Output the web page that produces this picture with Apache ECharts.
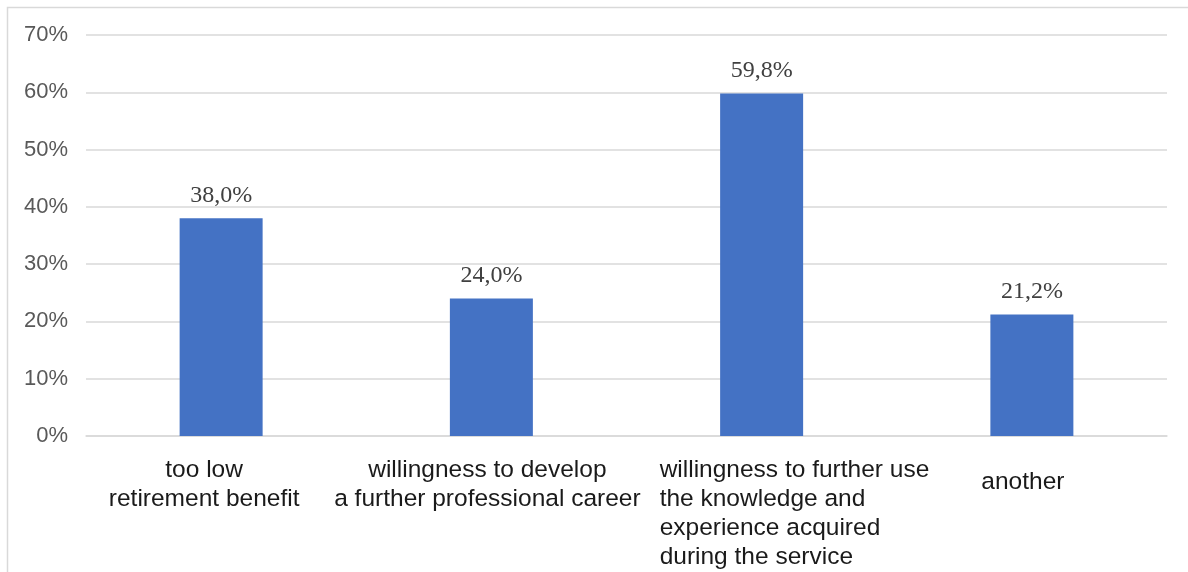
<!DOCTYPE html>
<html>
<head>
<meta charset="utf-8">
<script src="https://cdn.jsdelivr.net/npm/echarts@6/dist/echarts.min.js"></script>
<style>
  html, body { margin: 0; padding: 0; background: #ffffff; }
  #chart { width: 1188px; height: 572px; }
</style>
</head>
<body>
<div id="chart"></div>
<script>
// Reasons for taking up work after leaving the service (share of respondents, %)
const categories = [
  'too low\nretirement benefit',
  'willingness to develop\na further professional career',
  'willingness to further use\nthe knowledge and\nexperience acquired\nduring the service',
  'another'
];
const shares = [38.0, 24.0, 59.8, 21.2];
const yTicks = { min: 0, max: 70, step: 10 };

// per-category label placement (alignment / offsets of the multi-line texts)
const labelStyles = [
  { align: 'center', padding: [0, 34, 0, 0] },
  { align: 'center', padding: [0, 8, 0, 0] },
  { align: 'left', padding: [0, 0, 0, -102] },
  { align: 'center', padding: [12, 18, 0, 0] }
];

const chart = echarts.init(document.getElementById('chart'), null, { renderer: 'canvas' });

chart.setOption({
  backgroundColor: '#ffffff',
  animation: false,
  graphic: [{
    type: 'rect',
    silent: true,
    shape: { x: 7.5, y: 7.5, width: 1300, height: 700 },
    style: { fill: 'none', stroke: '#d9d9d9', lineWidth: 1.5 }
  }],
  grid: { left: 86, right: 21, top: 35, bottom: 135, containLabel: false },
  xAxis: {
    type: 'category',
    data: categories.map((c, i) => ({ value: c, textStyle: labelStyles[i] })),
    axisTick: { show: false },
    axisLine: { lineStyle: { color: '#d9d9d9', width: 1.5 } },
    axisLabel: {
      interval: 0,
      margin: 20,
      fontFamily: 'Liberation Sans, Arial, sans-serif',
      fontSize: 24.5,
      lineHeight: 29,
      color: '#1a1a1a'
    }
  },
  yAxis: {
    type: 'value',
    min: yTicks.min,
    max: yTicks.max,
    interval: yTicks.step,
    axisLine: { show: false },
    axisTick: { show: false },
    splitLine: { lineStyle: { color: '#d9d9d9', width: 1.5 } },
    axisLabel: {
      margin: 18,
      padding: [4, 0, 0, 0],
      formatter: '{value}%',
      fontFamily: 'Liberation Sans, Arial, sans-serif',
      fontSize: 22,
      color: '#595959'
    }
  },
  series: [{
    type: 'bar',
    data: shares,
    barWidth: 83,
    itemStyle: { color: '#4472c4' },
    label: {
      show: true,
      position: 'top',
      distance: 11,
      fontFamily: 'Liberation Serif, Times New Roman, serif',
      fontSize: 24,
      color: '#404040',
      formatter: p => p.value.toFixed(1).replace('.', ',') + '%'
    }
  }]
});
</script>
</body>
</html>
